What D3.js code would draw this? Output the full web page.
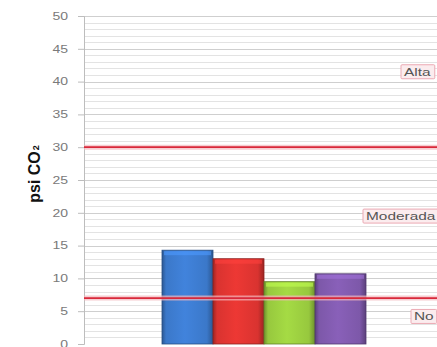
<!DOCTYPE html>
<html><head><meta charset="utf-8">
<script src="https://cdn.jsdelivr.net/npm/d3@7"></script>
<style>html,body{margin:0;padding:0;background:#fff;overflow:hidden}</style>
</head><body>
<svg id="c" width="437" height="347"></svg>
<script>
const series = ["S1","S2","S3","S4"];
const values = [14.3, 13.0, 9.5, 10.7];
const colors = ["#3b78c9","#d93330","#97c83e","#7d58a9"];
const yTicks = [0,5,10,15,20,25,30,35,40,45,50];
const thresholds = [30, 7];
const zoneLabels = ["Alta","Moderada","No"];
const zoneLabelValues = [41.5, 19.5, 4.2];

(function(){
const svg = d3.select("#c");
const mLeft = 84, mRight = 437, mTop = 16, mBottom = 344;
const stretch = 1.4;
const y = d3.scaleLinear().domain([0,50]).range([mBottom, mTop]);
const x = d3.scaleBand().domain(series).range([162, 366]).padding(0);

const defs = svg.append("defs");
colors.forEach((c,i)=>{
  const g = defs.append("linearGradient").attr("id","g"+i).attr("x1","0").attr("x2","1").attr("y1","0").attr("y2","0");
  const dk = d3.color(c).darker(0.9), lt = d3.color(c).brighter(0.25);
  g.append("stop").attr("offset","0%").attr("stop-color",dk);
  g.append("stop").attr("offset","8%").attr("stop-color",c);
  g.append("stop").attr("offset","45%").attr("stop-color",lt);
  g.append("stop").attr("offset","88%").attr("stop-color",c);
  g.append("stop").attr("offset","100%").attr("stop-color",dk);
});

// gridlines every 1 unit
const minor = d3.range(1,51);
svg.append("g").selectAll("line").data(minor).join("line")
  .attr("x1",mLeft).attr("x2",mRight)
  .attr("y1",d=>Math.round(y(d))+0.5).attr("y2",d=>Math.round(y(d))+0.5)
  .attr("stroke",d=>d%5===0?"#cfcfcf":"#e3e3e3").attr("stroke-width",1);

// y axis
const ax = svg.append("g").attr("transform",`translate(${mLeft},0)`)
  .call(d3.axisLeft(y).tickValues(yTicks).tickSize(6).tickPadding(10));
ax.select(".domain").attr("stroke","#bdbdbd");
ax.selectAll(".tick line").attr("stroke","#bdbdbd");
ax.selectAll(".tick text").attr("fill","#7a7a7a").style("font-family","Liberation Sans, Arial, sans-serif").style("font-size","10px")
  .each(function(){ const w=this.getComputedTextLength(); d3.select(this).attr("textLength",w*stretch).attr("lengthAdjust","spacingAndGlyphs"); });

// bars
svg.append("g").selectAll("rect").data(values).join("rect")
  .attr("x",(d,i)=>x(series[i])).attr("width",x.bandwidth())
  .attr("y",d=>y(d)).attr("height",d=>y(0)-y(d))
  .attr("fill",(d,i)=>`url(#g${i})`)
  .attr("stroke",(d,i)=>d3.color(colors[i]).darker(1.2)).attr("stroke-width",0.8);
svg.append("g").selectAll("rect").data(values).join("rect")
  .attr("x",(d,i)=>x(series[i])+2).attr("width",x.bandwidth()-4)
  .attr("y",d=>y(d)+1).attr("height",4)
  .attr("fill",(d,i)=>d3.color(colors[i]).brighter(0.7)).attr("opacity",0.6);

// threshold lines
const th = svg.append("g");
th.selectAll("line.glow").data(thresholds).join("line").attr("class","glow")
  .attr("x1",mLeft).attr("x2",mRight).attr("y1",d=>y(d)).attr("y2",d=>y(d))
  .attr("stroke","#f4b8be").attr("stroke-width",5).attr("opacity",0.7);
th.selectAll("line.main").data(thresholds).join("line").attr("class","main")
  .attr("x1",mLeft).attr("x2",mRight).attr("y1",d=>y(d)).attr("y2",d=>y(d))
  .attr("stroke","#d9283a").attr("stroke-width",1.8);

// zone labels
const lx = [404, 366, 414];
const lg = svg.append("g");
zoneLabels.forEach((t,i)=>{
  const g = lg.append("g");
  const txt = g.append("text").attr("x",lx[i]).attr("y",y(zoneLabelValues[i])+4)
    .text(t).attr("fill","#555").style("font-family","Liberation Sans, Arial, sans-serif").style("font-size","11px");
  const w = txt.node().getComputedTextLength();
  txt.attr("textLength", w*stretch).attr("lengthAdjust","spacingAndGlyphs");
  const bb = txt.node().getBBox();
  g.insert("rect","text").attr("x",bb.x-3).attr("y",bb.y-1).attr("width",bb.width+6).attr("height",bb.height+2)
    .attr("fill","#fbecee").attr("stroke","#eba9b3").attr("stroke-width",1).attr("rx",1);
});

// y title
svg.append("text").attr("transform",`translate(40,174) rotate(-90)`).attr("text-anchor","middle")
  .style("font-family","Liberation Sans, Arial, sans-serif").style("font-size","16px").style("font-weight","bold")
  .attr("fill","#111")
  .html('psi CO<tspan font-size="9" dx="1" dy="-1">2</tspan>');
})();
</script>
</body></html>
